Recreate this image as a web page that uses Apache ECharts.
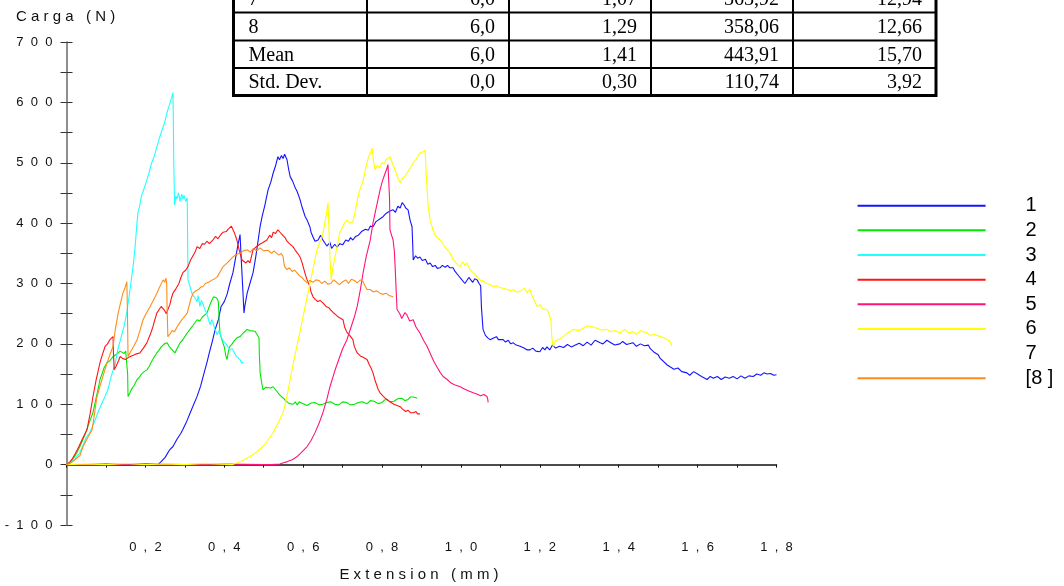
<!DOCTYPE html>
<html><head><meta charset="utf-8">
<script src="https://cdn.jsdelivr.net/npm/echarts@6/dist/echarts.min.js"></script>
<style>html,body{margin:0;padding:0;background:#fff}#c{width:1064px;height:586px}</style>
</head><body><div id="c"></div>
<script>
const seriesNames = ['1','2','3','4','5','6','7','[8 ]'];
const seriesColors = ['#1414ff','#00e800','#22ffff','#ff1414','#ff1478','#ffff00','#ffffff','#ff8c1a'];
const xTickLabels = ['0,2','0,4','0,6','0,8','1,0','1,2','1,4','1,6','1,8'];
const yTickLabels = ['-100','0','100','200','300','400','500','600','700'];
const yTitle = 'Carga (N)';
const xTitle = 'Extension (mm)';

const tableCol1 = ['7','8','Mean','Std. Dev.'];
const tableCol2 = ['6,0','6,0','6,0','0,0'];
const tableCol3 = ['1,07','1,29','1,41','0,30'];
const tableCol4 = ['363,92','358,06','443,91','110,74'];
const tableCol5 = ['12,94','12,66','15,70','3,92'];

const s1 = [[0,0],[0.05,0],[0.10,1],[0.15,0],[0.20,1],[0.232,0],[0.24,5],[0.25,12],[0.262,25],[0.27,30],[0.28,42],[0.29,52],[0.295,58],[0.305,72],[0.315,88],[0.331,113],[0.34,130],[0.348,150],[0.356,169],[0.362,185],[0.37,205],[0.377,224],[0.385,240],[0.392,262],[0.40,270],[0.407,282],[0.414,300],[0.422,318],[0.428,340],[0.435,365],[0.44,381],[0.443,340],[0.447,290],[0.450,251],[0.452,262],[0.458,284],[0.465,300],[0.473,318],[0.48,345],[0.486,372],[0.491,395],[0.496,411],[0.503,430],[0.511,455],[0.518,468],[0.524,483],[0.53,495],[0.536,510],[0.54,505],[0.545,512],[0.549,507],[0.553,514],[0.559,505],[0.563,490],[0.567,477],[0.573,470],[0.579,460],[0.585,452],[0.592,439],[0.598,425],[0.605,411],[0.61,405],[0.617,394],[0.62,385],[0.625,377],[0.63,370],[0.638,372],[0.644,380],[0.65,372],[0.655,367],[0.66,362],[0.668,368],[0.672,358],[0.68,365],[0.686,360],[0.693,366],[0.70,364],[0.708,372],[0.715,370],[0.72,376],[0.726,372],[0.733,378],[0.74,380],[0.748,386],[0.752,384],[0.758,390],[0.765,388],[0.77,395],[0.777,394],[0.784,402],[0.79,405],[0.797,408],[0.803,411],[0.81,416],[0.815,414],[0.82,420],[0.828,422],[0.834,418],[0.84,428],[0.846,425],[0.851,434],[0.856,430],[0.86,425],[0.866,422],[0.871,405],[0.876,394],[0.878,360],[0.879,339],[0.885,346],[0.89,342],[0.896,344],[0.902,338],[0.91,340],[0.916,332],[0.922,334],[0.928,328],[0.935,330],[0.94,325],[0.947,326],[0.953,330],[0.96,327],[0.966,330],[0.972,326],[0.98,326],[0.985,320],[0.99,318],[0.995,312],[1.0,308],[1.005,311],[1.01,300],[1.015,303],[1.02,310],[1.025,306],[1.03,302],[1.035,308],[1.041,306],[1.046,300],[1.05,296],[1.052,260],[1.056,224],[1.062,214],[1.068,210],[1.074,207],[1.08,209],[1.09,212],[1.095,207],[1.1,205],[1.107,207],[1.113,203],[1.12,206],[1.126,200],[1.132,202],[1.14,198],[1.15,196],[1.16,193],[1.168,190],[1.175,190],[1.182,193],[1.19,188],[1.2,187],[1.207,194],[1.213,190],[1.218,195],[1.225,190],[1.232,198],[1.24,193],[1.25,196],[1.26,194],[1.27,199],[1.28,195],[1.29,198],[1.3,201],[1.31,197],[1.32,203],[1.33,198],[1.34,206],[1.353,202],[1.36,200],[1.37,206],[1.38,202],[1.39,198],[1.403,200],[1.41,204],[1.42,199],[1.436,202],[1.445,196],[1.455,200],[1.465,197],[1.475,198],[1.48,192],[1.49,186],[1.5,182],[1.505,176],[1.512,172],[1.523,165],[1.53,162],[1.54,158],[1.55,160],[1.56,154],[1.573,152],[1.58,148],[1.59,154],[1.6,150],[1.61,146],[1.624,141],[1.632,146],[1.64,143],[1.65,146],[1.66,141],[1.67,145],[1.68,143],[1.69,146],[1.7,142],[1.71,147],[1.72,143],[1.73,147],[1.741,146],[1.75,150],[1.76,148],[1.768,152],[1.776,150],[1.785,151],[1.793,148],[1.80,149]];

const s2 = [[0,0],[0.008,3],[0.015,8],[0.025,18],[0.034,30],[0.042,42],[0.05,55],[0.058,70],[0.067,86],[0.075,110],[0.08,125],[0.085,141],[0.09,150],[0.095,160],[0.103,169],[0.11,172],[0.118,179],[0.125,182],[0.13,185],[0.136,188],[0.141,190],[0.146,184],[0.15,188],[0.153,186],[0.155,150],[0.156,113],[0.16,118],[0.165,125],[0.172,132],[0.179,141],[0.185,145],[0.19,150],[0.197,154],[0.204,157],[0.21,163],[0.215,170],[0.222,178],[0.229,185],[0.235,190],[0.24,195],[0.248,200],[0.255,202],[0.26,196],[0.268,190],[0.275,185],[0.28,192],[0.288,202],[0.294,206],[0.30,212],[0.306,218],[0.313,224],[0.32,230],[0.331,240],[0.338,238],[0.345,245],[0.35,248],[0.356,251],[0.362,262],[0.369,273],[0.373,278],[0.377,281],[0.381,276],[0.385,270],[0.387,240],[0.389,218],[0.395,205],[0.40,195],[0.404,180],[0.407,174],[0.41,186],[0.414,196],[0.42,200],[0.425,205],[0.432,210],[0.44,212],[0.448,218],[0.458,224],[0.465,222],[0.47,220],[0.478,221],[0.483,218],[0.488,210],[0.489,180],[0.491,152],[0.495,135],[0.498,124],[0.505,128],[0.51,130],[0.517,127],[0.524,129],[0.53,124],[0.536,119],[0.543,114],[0.55,110],[0.555,106],[0.559,103],[0.565,101],[0.575,100],[0.58,104],[0.585,99],[0.59,104],[0.6,101],[0.61,98],[0.62,102],[0.63,103],[0.64,99],[0.65,100],[0.66,103],[0.67,104],[0.68,100],[0.69,99],[0.70,104],[0.71,103],[0.72,99],[0.73,100],[0.74,103],[0.75,104],[0.762,101],[0.77,106],[0.78,105],[0.79,101],[0.80,103],[0.806,107],[0.813,108],[0.82,104],[0.83,105],[0.84,109],[0.85,110],[0.858,106],[0.866,108],[0.872,112],[0.879,112],[0.884,109],[0.889,110]];

const s3 = [[0,0],[0.01,3],[0.02,8],[0.034,20],[0.042,32],[0.05,45],[0.058,52],[0.065,62],[0.075,78],[0.082,90],[0.09,102],[0.097,112],[0.105,124],[0.11,138],[0.115,150],[0.123,166],[0.13,190],[0.14,215],[0.147,232],[0.153,252],[0.16,285],[0.165,310],[0.17,335],[0.174,361],[0.178,395],[0.181,417],[0.186,430],[0.19,445],[0.197,458],[0.204,472],[0.21,485],[0.215,498],[0.222,510],[0.229,526],[0.235,540],[0.24,550],[0.248,565],[0.255,583],[0.258,590],[0.262,598],[0.266,607],[0.270,616],[0.271,560],[0.272,500],[0.274,430],[0.277,445],[0.28,440],[0.284,450],[0.288,436],[0.292,448],[0.295,440],[0.298,446],[0.302,436],[0.306,442],[0.307,380],[0.308,306],[0.312,298],[0.315,290],[0.318,284],[0.321,280],[0.326,276],[0.331,270],[0.334,280],[0.338,262],[0.342,272],[0.346,266],[0.35,258],[0.356,250],[0.36,240],[0.364,232],[0.368,240],[0.371,236],[0.376,225],[0.382,215],[0.386,222],[0.389,218],[0.393,210],[0.397,205],[0.402,202],[0.407,198],[0.41,194],[0.414,190],[0.42,192],[0.425,186],[0.43,180],[0.435,178],[0.44,174],[0.444,168],[0.448,170]];

const s4 = [[0,0],[0.008,4],[0.015,10],[0.022,18],[0.03,28],[0.04,42],[0.052,58],[0.06,85],[0.067,112],[0.075,140],[0.085,169],[0.09,180],[0.098,196],[0.104,200],[0.11,207],[0.114,204],[0.118,212],[0.119,185],[0.121,157],[0.125,162],[0.128,165],[0.132,172],[0.136,179],[0.142,176],[0.15,174],[0.158,178],[0.165,180],[0.175,183],[0.186,185],[0.195,193],[0.204,202],[0.212,215],[0.219,228],[0.224,240],[0.229,251],[0.235,257],[0.24,262],[0.248,256],[0.253,250],[0.257,251],[0.262,265],[0.266,276],[0.270,284],[0.278,292],[0.285,300],[0.29,310],[0.295,318],[0.302,322],[0.308,328],[0.314,338],[0.32,345],[0.326,352],[0.331,361],[0.338,358],[0.344,366],[0.35,365],[0.356,370],[0.362,366],[0.371,372],[0.378,378],[0.384,374],[0.39,380],[0.397,385],[0.405,386],[0.41,390],[0.414,389],[0.418,395],[0.42,394],[0.425,385],[0.432,372],[0.438,355],[0.445,339],[0.45,338],[0.455,334],[0.46,338],[0.465,334],[0.47,348],[0.473,356],[0.48,360],[0.49,365],[0.498,368],[0.508,372],[0.515,380],[0.52,376],[0.524,385],[0.53,383],[0.536,389],[0.54,392],[0.545,382],[0.549,382],[0.555,375],[0.559,370],[0.565,366],[0.574,361],[0.58,355],[0.586,350],[0.592,344],[0.597,335],[0.60,328],[0.605,316],[0.61,306],[0.614,300],[0.617,295],[0.62,286],[0.625,278],[0.63,274],[0.637,270],[0.643,272],[0.65,268],[0.658,262],[0.665,260],[0.67,256],[0.676,252],[0.683,248],[0.69,244],[0.695,242],[0.701,240],[0.705,228],[0.711,219],[0.718,214],[0.726,207],[0.73,195],[0.737,185],[0.745,180],[0.752,178],[0.762,174],[0.768,165],[0.772,160],[0.777,152],[0.783,138],[0.79,125],[0.795,119],[0.802,114],[0.808,110],[0.813,108],[0.82,104],[0.83,100],[0.838,98],[0.846,96],[0.852,92],[0.86,88],[0.866,90],[0.872,86],[0.88,86],[0.886,88],[0.89,84],[0.896,84]];

const s5 = [[0,0],[0.1,0],[0.2,1],[0.3,0],[0.4,1],[0.5,0],[0.52,0],[0.541,1],[0.55,3],[0.56,5],[0.572,8],[0.584,13],[0.595,20],[0.61,30],[0.62,40],[0.63,53],[0.64,68],[0.65,86],[0.66,108],[0.668,129],[0.68,155],[0.693,179],[0.70,192],[0.711,207],[0.72,225],[0.73,245],[0.737,262],[0.745,290],[0.752,318],[0.76,345],[0.77,372],[0.777,400],[0.785,425],[0.795,455],[0.80,468],[0.808,483],[0.812,490],[0.815,497],[0.818,495],[0.819,440],[0.82,389],[0.824,380],[0.828,372],[0.831,355],[0.833,330],[0.835,300],[0.838,257],[0.845,250],[0.85,242],[0.853,245],[0.858,252],[0.863,248],[0.87,238],[0.879,240],[0.886,228],[0.896,218],[0.905,206],[0.914,196],[0.925,180],[0.932,170],[0.939,162],[0.948,152],[0.955,146],[0.965,141],[0.975,135],[0.985,132],[0.998,129],[1.01,125],[1.02,122],[1.031,119],[1.04,117],[1.05,114],[1.058,116],[1.066,113],[1.068,108],[1.069,103]];

const s6 = [[0,0],[0.05,1],[0.1,0],[0.15,2],[0.2,0],[0.25,1],[0.3,0],[0.35,2],[0.42,0],[0.432,3],[0.445,6],[0.455,10],[0.465,13],[0.48,20],[0.498,30],[0.51,40],[0.524,53],[0.536,68],[0.549,86],[0.558,110],[0.567,141],[0.575,168],[0.584,196],[0.595,230],[0.605,262],[0.614,290],[0.623,318],[0.63,340],[0.635,356],[0.642,368],[0.648,377],[0.652,390],[0.655,400],[0.66,420],[0.663,434],[0.665,400],[0.668,340],[0.671,306],[0.675,325],[0.681,345],[0.687,365],[0.693,385],[0.70,394],[0.705,400],[0.711,405],[0.718,400],[0.726,402],[0.732,420],[0.739,444],[0.745,458],[0.752,470],[0.758,490],[0.765,508],[0.77,516],[0.775,524],[0.778,505],[0.782,488],[0.788,495],[0.794,492],[0.80,500],[0.806,498],[0.81,505],[0.815,503],[0.82,510],[0.826,500],[0.833,488],[0.84,475],[0.846,467],[0.852,474],[0.858,478],[0.863,483],[0.87,490],[0.875,495],[0.879,500],[0.886,505],[0.892,512],[0.896,516],[0.903,518],[0.909,521],[0.912,480],[0.917,427],[0.922,405],[0.929,389],[0.935,380],[0.94,376],[0.947,372],[0.955,365],[0.962,358],[0.972,351],[0.98,340],[0.99,332],[0.998,328],[1.005,336],[1.01,330],[1.015,334],[1.022,324],[1.031,318],[1.04,312],[1.048,306],[1.056,304],[1.066,300],[1.074,298],[1.082,295],[1.09,296],[1.10,293],[1.108,292],[1.117,290],[1.125,288],[1.133,290],[1.14,286],[1.15,287],[1.16,292],[1.168,285],[1.175,290],[1.18,280],[1.187,270],[1.193,262],[1.2,265],[1.208,258],[1.218,257],[1.223,250],[1.228,240],[1.23,215],[1.231,207],[1.234,196],[1.24,205],[1.25,208],[1.259,212],[1.27,218],[1.285,224],[1.3,222],[1.31,226],[1.32,230],[1.335,228],[1.345,226],[1.355,223],[1.37,224],[1.38,220],[1.39,222],[1.403,218],[1.415,224],[1.425,218],[1.436,220],[1.445,216],[1.455,222],[1.472,218],[1.48,214],[1.49,216],[1.505,212],[1.515,210],[1.523,207],[1.53,204],[1.535,196]];

const s7 = [];

const s8 = [[0,0],[0.008,2],[0.016,5],[0.025,10],[0.034,15],[0.042,30],[0.05,40],[0.058,50],[0.065,58],[0.07,80],[0.077,112],[0.085,130],[0.095,152],[0.103,169],[0.11,182],[0.118,196],[0.124,225],[0.131,251],[0.137,268],[0.143,284],[0.148,292],[0.153,303],[0.154,270],[0.155,230],[0.156,179],[0.16,184],[0.165,190],[0.172,198],[0.179,207],[0.186,222],[0.194,240],[0.2,248],[0.206,255],[0.212,262],[0.22,272],[0.229,284],[0.236,294],[0.245,306],[0.249,302],[0.252,309],[0.254,300],[0.255,260],[0.257,212],[0.262,216],[0.268,222],[0.274,220],[0.28,228],[0.288,236],[0.295,242],[0.3,246],[0.306,251],[0.312,266],[0.316,276],[0.321,284],[0.328,288],[0.335,290],[0.34,294],[0.346,295],[0.352,300],[0.36,302],[0.37,306],[0.376,308],[0.382,311],[0.39,320],[0.397,328],[0.404,332],[0.41,336],[0.416,340],[0.422,344],[0.43,348],[0.44,350],[0.448,354],[0.458,356],[0.466,352],[0.474,358],[0.482,354],[0.491,359],[0.5,354],[0.505,357],[0.511,355],[0.52,350],[0.526,354],[0.53,352],[0.538,347],[0.544,350],[0.549,345],[0.551,335],[0.553,328],[0.559,323],[0.565,326],[0.572,320],[0.578,322],[0.584,318],[0.59,313],[0.597,310],[0.602,306],[0.61,301],[0.617,305],[0.625,302],[0.632,306],[0.64,305],[0.647,300],[0.655,304],[0.662,299],[0.67,300],[0.677,306],[0.685,302],[0.692,298],[0.70,303],[0.708,306],[0.715,300],[0.722,307],[0.73,305],[0.737,301],[0.745,306],[0.752,303],[0.757,296],[0.762,290],[0.77,290],[0.778,286],[0.786,288],[0.795,284],[0.803,282],[0.81,284],[0.818,280],[0.823,282],[0.828,278]];

const allSeries = [s1, s2, s3, s4, s5, s6, s7, s8];

const sp = s => s.split('').join('  ');
const sp1 = s => s.split('').join(' ');

const xFmt = v => {
  const k = Math.round(v * 10);
  if (k === 0 || k % 2) return '';
  const t = (k / 10).toFixed(1).replace('.', ',');
  return xTickLabels.includes(t) ? sp(t) : '';
};
const yFmt = v => {
  const t = String(Math.round(v));
  return (Math.round(v) % 100 === 0 && yTickLabels.includes(t)) ? sp(t) : '';
};

// table graphic
const colX = [233.5, 367, 509, 651, 793, 936];
const rowY = [-15, 12.5, 40.5, 68, 95.5];
const tableFont = '20px "Liberation Serif", "Times New Roman", serif';
const g = [];
g.push({type:'rect', z:100, shape:{x:colX[0], y:-20, width:colX[5]-colX[0], height:rowY[4]+20}, style:{fill:'#fff', stroke:'#000', lineWidth:3}});
for (let i = 1; i < 4; i++) g.push({type:'line', z:101, shape:{x1:colX[0], y1:rowY[i], x2:colX[5], y2:rowY[i]}, style:{stroke:'#000', lineWidth:2}});
for (let i = 1; i < 5; i++) g.push({type:'line', z:101, shape:{x1:colX[i], y1:-20, x2:colX[i], y2:rowY[4]}, style:{stroke:'#000', lineWidth:2}});
const cols = [tableCol1, tableCol2, tableCol3, tableCol4, tableCol5];
for (let r = 0; r < 4; r++) {
  const cy = (rowY[r] + rowY[r+1]) / 2 + 1;
  for (let c = 0; c < 5; c++) {
    const left = c === 0;
    g.push({type:'text', z:102, x: left ? colX[0] + 15 : colX[c+1] - 14, y: cy,
      style:{text: cols[c][r], font: tableFont, fill:'#000', align: left ? 'left' : 'right', verticalAlign:'middle'}});
  }
}
g.push({type:'text', z:50, x:16, y:17, style:{text: sp1(yTitle), font:'15px "Liberation Sans", Arial, sans-serif', fill:'#111', align:'left', verticalAlign:'middle'}});
g.push({type:'text', z:50, x:419, y:575, style:{text: sp1(xTitle), font:'15px "Liberation Sans", Arial, sans-serif', fill:'#111', align:'center', verticalAlign:'middle'}});

const chart = echarts.init(document.getElementById('c'), null, {renderer:'canvas'});
const labelStyle = {fontSize:13, fontFamily:'"Liberation Sans", Arial, sans-serif', color:'#111'};
chart.setOption({
  animation: false,
  color: seriesColors,
  grid: {left:66.5, top:42, width:710, height:483, containLabel:false, outerBoundsMode:'none'},
  legend: {
    orient:'vertical', left:857.6, top:193.7, padding:0,
    itemWidth:128, itemHeight:2, itemGap:0.65, icon:'rect', selectedMode:false,
    data: seriesNames,
    textStyle: Object.assign({}, labelStyle, {fontSize:20, color:'#000', lineHeight:20, padding:[4,0,0,35]})
  },
  xAxis: [
    {type:'value', min:0, max:1.8, interval:0.1,
     axisLine:{show:true, onZero:true, lineStyle:{color:'#111', width:1.5}},
     axisTick:{show:true, inside:false, length:3, lineStyle:{color:'#111', width:1}},
     axisLabel:{show:false}, splitLine:{show:false}},
    {type:'value', min:0, max:1.8, interval:0.1, position:'bottom',
     axisLine:{show:false, onZero:false}, axisTick:{show:false},
     axisLabel: Object.assign({show:true, margin:16, formatter:xFmt, showMinLabel:true, showMaxLabel:true}, labelStyle),
     splitLine:{show:false}}
  ],
  yAxis: [
    {type:'value', min:-100, max:700, interval:50, position:'left',
     axisLine:{show:true, lineStyle:{color:'#6a6a6a', width:1.5}},
     axisTick:{show:true, inside:false, length:6, lineStyle:{color:'#333', width:1}},
     axisLabel: Object.assign({show:true, margin:14, formatter:yFmt, showMinLabel:true, showMaxLabel:true}, labelStyle),
     splitLine:{show:false}},
    {type:'value', min:-100, max:700, interval:50, position:'left',
     axisLine:{show:false}, axisTick:{show:true, inside:true, length:6, lineStyle:{color:'#333', width:1}},
     axisLabel:{show:false}, splitLine:{show:false}}
  ],
  graphic: {elements: g},
  series: allSeries.map((d, i) => ({
    name: seriesNames[i], type:'line', xAxisIndex:0, yAxisIndex:0,
    data: d, showSymbol:false, symbol:'none', smooth:false,
    lineStyle:{color: seriesColors[i], width:1.1},
    itemStyle:{color: seriesColors[i]},
    emphasis:{disabled:true}
  }))
});
</script></body></html>
